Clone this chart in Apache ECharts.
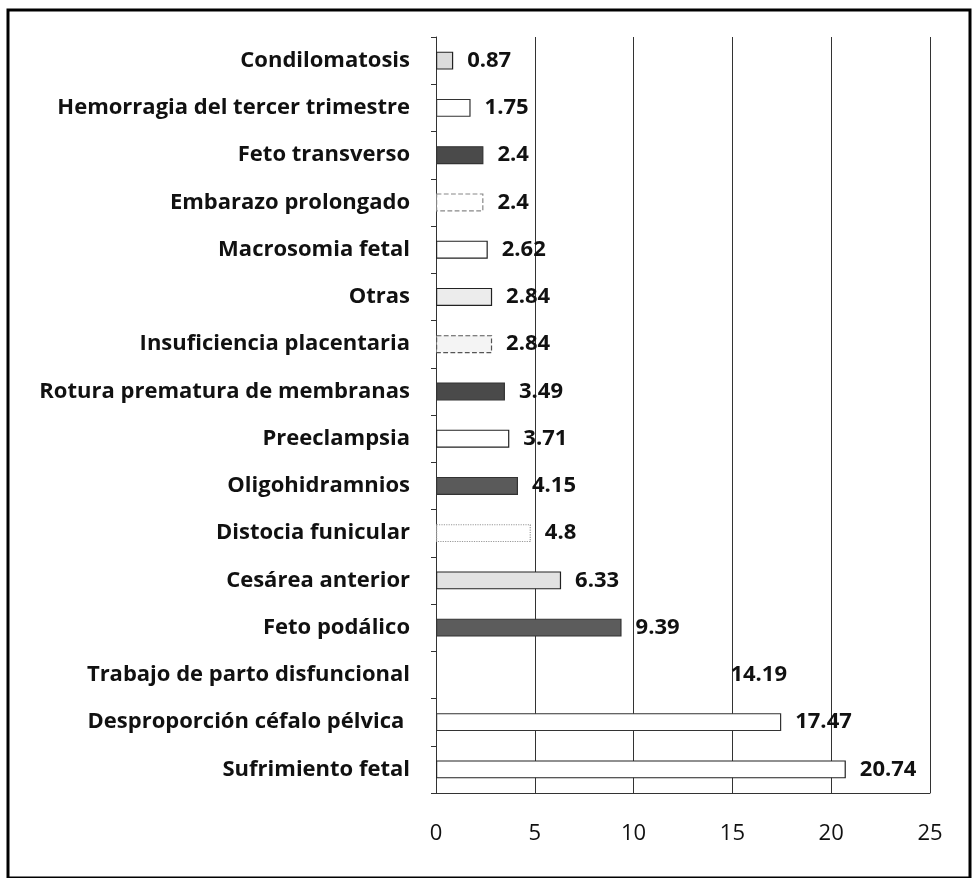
<!DOCTYPE html>
<html>
<head>
<meta charset="utf-8">
<script src="https://cdn.jsdelivr.net/npm/echarts@6/dist/echarts.min.js"></script>
<style>
  html, body { margin: 0; padding: 0; background: #fff; }
  #chart { width: 974px; height: 878px; }
</style>
</head>
<body>
<div id="chart"></div>
<script>
// --- Data (top to bottom as in the figure) ---
const categories = [
    'Condilomatosis',
    'Hemorragia del tercer trimestre',
    'Feto transverso',
    'Embarazo prolongado',
    'Macrosomia fetal',
    'Otras',
    'Insuficiencia placentaria',
    'Rotura prematura de membranas',
    'Preeclampsia',
    'Oligohidramnios',
    'Distocia funicular',
    'Cesárea anterior',
    'Feto podálico',
    'Trabajo de parto disfuncional',
    'Desproporción céfalo pélvica ',
    'Sufrimiento fetal'
];
const values = [0.87, 1.75, 2.4, 2.4, 2.62, 2.84, 2.84, 3.49, 3.71, 4.15, 4.8, 6.33, 9.39, 14.19, 17.47, 20.74];
const xTicks = [0, 5, 10, 15, 20, 25];

// bar look per row: fill / border
const barLooks = [
    { color: '#dcdcdc', borderColor: '#222', borderType: 'solid' },
    { color: '#ffffff', borderColor: '#333', borderType: 'solid' },
    { color: '#4a4a4a', borderColor: '#333', borderType: 'solid' },
    { color: '#ffffff', borderColor: '#888', borderType: 'dashed' },
    { color: '#ffffff', borderColor: '#222', borderType: 'solid' },
    { color: '#ececec', borderColor: '#222', borderType: 'solid' },
    { color: '#f4f4f4', borderColor: '#555', borderType: 'dashed' },
    { color: '#4a4a4a', borderColor: '#333', borderType: 'solid' },
    { color: '#ffffff', borderColor: '#222', borderType: 'solid' },
    { color: '#5a5a5a', borderColor: '#333', borderType: 'solid' },
    { color: '#ffffff', borderColor: '#999', borderType: 'dotted' },
    { color: '#e2e2e2', borderColor: '#222', borderType: 'solid' },
    { color: '#5c5c5c', borderColor: '#333', borderType: 'solid' },
    { color: 'rgba(255,255,255,0)', borderColor: 'rgba(255,255,255,0)', borderType: 'solid' },
    { color: '#ffffff', borderColor: '#333', borderType: 'solid' },
    { color: '#ffffff', borderColor: '#222', borderType: 'solid' }
];

const FONT = '"Open Sans", "Noto Sans", sans-serif';

const chart = echarts.init(document.getElementById('chart'));
chart.setOption({
    backgroundColor: '#fff',
    animation: false,
    grid: { top: 37, bottom: 85, left: 436, right: 44, containLabel: false },
    xAxis: {
        type: 'value',
        min: xTicks[0],
        max: xTicks[xTicks.length - 1],
        interval: 5,
        axisLine: { show: true, lineStyle: { color: '#333', width: 1 } },
        axisTick: { show: false },
        axisLabel: {
            color: '#111', fontFamily: FONT, fontSize: 22, margin: 30
        },
        splitLine: { show: true, lineStyle: { color: '#333', width: 1 } }
    },
    yAxis: {
        type: 'category',
        inverse: true,
        data: categories,
        axisLine: { show: true, lineStyle: { color: '#333', width: 1 } },
        axisTick: { show: true, length: 5, lineStyle: { color: '#333' } },
        axisLabel: {
            color: '#111', fontFamily: FONT, fontWeight: 'bold', fontSize: 22, margin: 26
        }
    },
    graphic: [{
        type: 'rect',
        shape: { x: 8, y: 10, width: 962, height: 868 },
        style: { fill: 'none', stroke: '#000', lineWidth: 3 },
        silent: true
    }],
    series: [{
        type: 'bar',
        barWidth: 18,
        data: values.map((v, i) => ({
            value: v,
            itemStyle: {
                color: barLooks[i].color,
                borderColor: barLooks[i].borderColor,
                borderType: barLooks[i].borderType,
                borderWidth: 1.2
            }
        })),
        label: {
            show: true,
            position: 'right',
            distance: 14,
            color: '#111',
            fontFamily: FONT,
            fontWeight: 'bold',
            fontSize: 22
        }
    }]
});
</script>
</body>
</html>
